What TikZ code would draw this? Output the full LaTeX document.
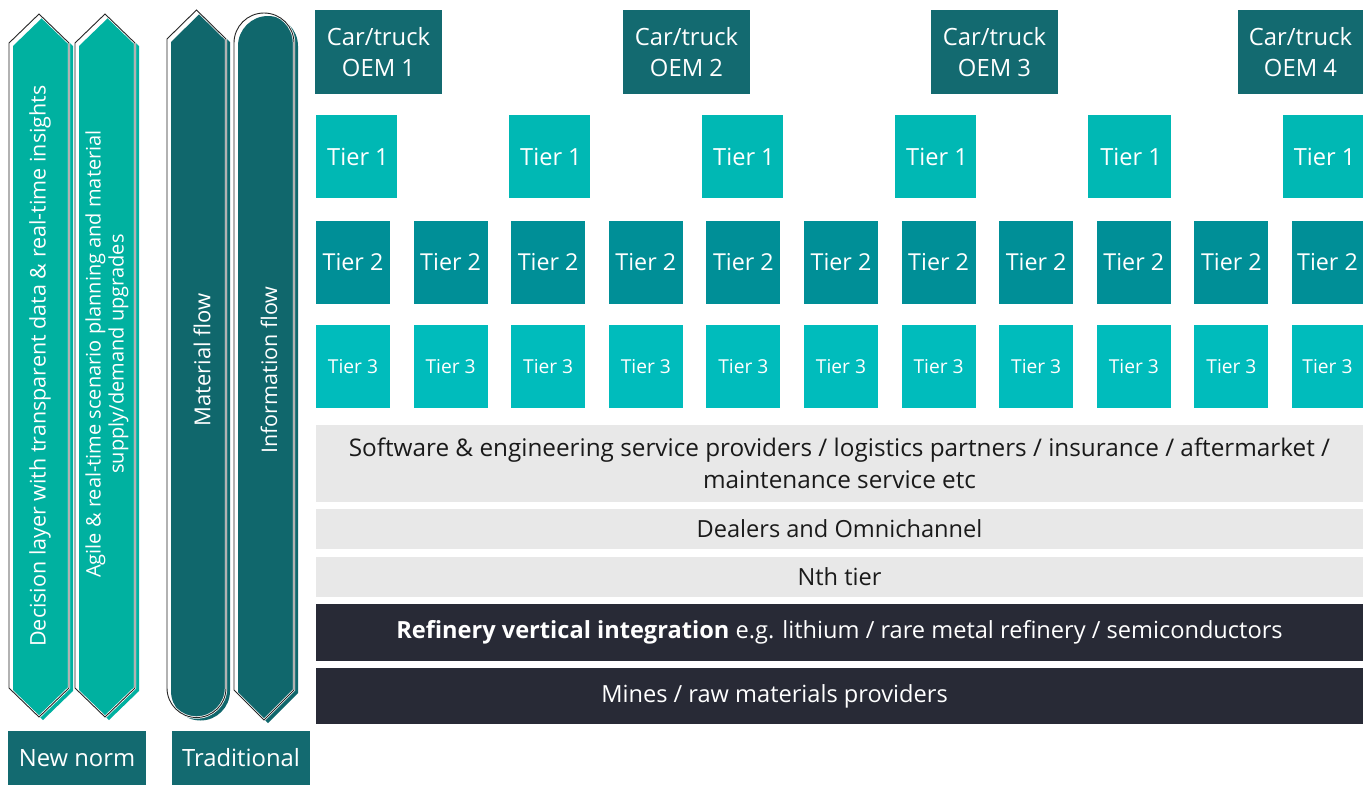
\documentclass[tikz,border=0pt]{standalone}
\usepackage{fontspec}
\setmainfont{Open Sans}
\definecolor{oemc}{HTML}{136A70}
\definecolor{tonec}{HTML}{00B8B4}
\definecolor{ttwoc}{HTML}{008F97}
\definecolor{tthreec}{HTML}{00BCBC}
\definecolor{newc}{HTML}{00B1A0}
\definecolor{tradc}{HTML}{10676C}
\definecolor{greyc}{HTML}{E8E8E8}
\definecolor{darkc}{HTML}{282A36}
\definecolor{inkc}{HTML}{1A1A1A}
\begin{document}
\begin{tikzpicture}[x=1pt,y=-1pt,
  every node/.style={inner sep=0pt,outer sep=0pt,align=center},
  oembox/.style={anchor=north west,fill=oemc,text=white,minimum height=84pt,font=\fontsize{23.8}{31}\selectfont},
  tonebox/.style={anchor=north west,fill=tonec,text=white,minimum height=83pt,font=\fontsize{23.6}{26}\selectfont},
  ttwobox/.style={anchor=north west,fill=ttwoc,text=white,minimum width=74pt,minimum height=83pt,font=\fontsize{23.3}{26}\selectfont},
  tthreebox/.style={anchor=north west,fill=tthreec,text=white,minimum width=74pt,minimum height=83pt,font=\fontsize{19.2}{22}\selectfont},
  bar/.style={anchor=north west,minimum width=1047pt,font=\fontsize{23.6}{32}\selectfont},
  greybar/.style={bar,fill=greyc,text=inkc},
  darkbar/.style={bar,fill=darkc,text=white},
  legend/.style={anchor=north west,fill=oemc,text=white,minimum width=138pt,minimum height=54pt,font=\fontsize{23.8}{26}\selectfont},
  halo/.style={draw=white,line width=2.4pt,line join=miter},
  edge/.style={draw=black!85,line width=0.9pt,line join=miter},
  vtext/.style={rotate=90,text=white,font=\fontsize{20}{23}\selectfont}
]
\useasboundingbox (0,0) rectangle (1371,785);

% ---- OEM boxes
\node[oembox,minimum width=127pt] (oem1) at (315,10) {Car/truck\\OEM 1};
\node[oembox,minimum width=127pt] (oem2) at (623,10) {Car/truck\\OEM 2};
\node[oembox,minimum width=127pt] (oem3) at (931,10) {Car/truck\\OEM 3};
\node[oembox,minimum width=125pt] (oem4) at (1238,10) {Car/truck\\OEM 4};

% ---- Tier 1
\node[tonebox,minimum width=81pt] (ta1) at (316,115) {\hspace*{3pt}Tier 1};
\node[tonebox,minimum width=81pt] (ta2) at (509,115) {\hspace*{3pt}Tier 1};
\node[tonebox,minimum width=81pt] (ta3) at (702,115) {\hspace*{3pt}Tier 1};
\node[tonebox,minimum width=81pt] (ta4) at (895,115) {\hspace*{3pt}Tier 1};
\node[tonebox,minimum width=83pt] (ta5) at (1088,115) {\hspace*{3pt}Tier 1};
\node[tonebox,minimum width=80pt] (ta6) at (1283,115) {\hspace*{3pt}Tier 1};

% ---- Tier 2 and Tier 3
\foreach \i/\x in {1/316,2/413.6,3/511.2,4/608.8,5/706.4,6/804,7/901.6,8/999.2,9/1096.8,10/1194.4}{
  \node[ttwobox] (tb\i) at (\x,221) {Tier 2};
  \node[tthreebox] (tc\i) at (\x,325) {Tier 3};
}
\node[ttwobox,minimum width=71pt] (tb11) at (1292,221) {Tier 2};
\node[tthreebox,minimum width=71pt] (tc11) at (1292,325) {Tier 3};

% ---- bars
\node[greybar,minimum height=77pt,font=\fontsize{24.3}{32}\selectfont] (soft) at (316,425) {Software \& engineering service providers / logistics partners / insurance / aftermarket /\\maintenance service etc};
\node[greybar,minimum height=40pt] (deal) at (316,509) {Dealers and Omnichannel};
\node[greybar,minimum height=40pt] (nth) at (316,557) {Nth tier};
\node[darkbar,minimum height=57pt] (ref) at (316,604) {\textbf{Refinery vertical integration} e.g. lithium / rare metal refinery / semiconductors};
\node[darkbar,minimum height=56pt] (mine) at (316,668) {Mines / raw materials providers\hspace*{130pt}};

% ---- legends
\node[legend] (newnorm) at (8,731) {New norm};
\node[legend] (trad) at (172,731) {Traditional};

% ---- arrow 1
\fill[newc,shift={(4,3)}] (9,43) -- (39,14) -- (69,43) -- (69,688) -- (39,717) -- (9,688) -- cycle;
\path[halo] (9,43) -- (39,14) -- (69,43) -- (69,688) -- (39,717) -- (9,688) -- cycle;
\path[edge] (9,43) -- (39,14) -- (69,43) -- (69,688) -- (39,717) -- (9,688) -- cycle;
% ---- arrow 2
\fill[newc,shift={(4,3)}] (75,43) -- (105,14) -- (135,43) -- (135,688) -- (105,717) -- (75,688) -- cycle;
\path[halo] (75,43) -- (105,14) -- (135,43) -- (135,688) -- (105,717) -- (75,688) -- cycle;
\path[edge] (75,43) -- (105,14) -- (135,43) -- (135,688) -- (105,717) -- (75,688) -- cycle;
% ---- arrow 3
\fill[tradc,shift={(4,3)}] (167,39) -- (196.5,10) -- (226,39) -- (226,688) arc[start angle=0,end angle=180,radius=29.5] -- cycle;
\path[halo] (167,39) -- (196.5,10) -- (226,39) -- (226,688) arc[start angle=0,end angle=180,radius=29.5] -- cycle;
\path[edge] (167,39) -- (196.5,10) -- (226,39) -- (226,688) arc[start angle=0,end angle=180,radius=29.5] -- cycle;
% ---- arrow 4
\fill[tradc,shift={(4,3)}] (234,43) arc[start angle=180,end angle=360,radius=30] -- (294,690) -- (264,720) -- (234,690) -- cycle;
\path[halo] (234,43) arc[start angle=180,end angle=360,radius=30] -- (294,690) -- (264,720) -- (234,690) -- cycle;
\path[edge] (234,43) arc[start angle=180,end angle=360,radius=30] -- (294,690) -- (264,720) -- (234,690) -- cycle;

% ---- arrow texts
\node[vtext,font=\fontsize{21.5}{23}\selectfont] (decision) at (40,366) {Decision layer with transparent data \& real-time insights};
\node[vtext] (agile) at (107,354) {Agile \& real-time scenario planning and material\\supply/demand upgrades};
\node[vtext,font=\fontsize{22}{23}\selectfont] (matflow) at (202,360) {Material flow};
\node[vtext,font=\fontsize{21.5}{23}\selectfont] (infoflow) at (269,370) {Information flow};
\end{tikzpicture}
\end{document}
